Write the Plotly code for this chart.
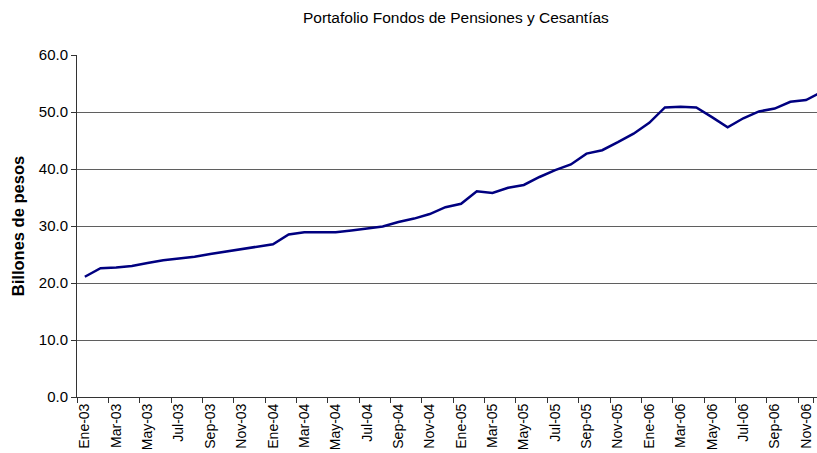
import plotly.graph_objects as go

# meses Ene-03 .. Dic-06
meses_es = ["Ene", "Feb", "Mar", "Abr", "May", "Jun",
            "Jul", "Ago", "Sep", "Oct", "Nov", "Dic"]
anios = ["03", "04", "05", "06"]
meses = [m + "-" + a for a in anios for m in meses_es]

# portafolio, billones de pesos
portafolio = [
    21.1, 22.6, 22.7, 23.0, 23.5, 24.0, 24.3, 24.6, 25.1, 25.5, 25.9, 26.3,
    26.8, 28.5, 28.9, 28.9, 28.9, 29.2, 29.5, 29.9, 30.7, 31.3, 32.1, 33.3,
    33.9, 36.1, 35.8, 36.7, 37.2, 38.6, 39.8, 40.8, 42.7, 43.3, 44.7, 46.2,
    48.1, 50.8, 50.9, 50.8, 49.1, 47.3, 48.9, 50.1, 50.6, 51.8, 52.1, 53.5,
]

etiquetas = meses[::2]

fig = go.Figure()
fig.add_trace(go.Scatter(x=meses, y=portafolio, mode="lines",
                         line=dict(color="#000080", width=2.5),
                         showlegend=False))

fig.update_layout(
    width=817, height=453,
    margin=dict(l=77, r=0, t=55, b=56, autoexpand=False),
    paper_bgcolor="white", plot_bgcolor="white",
    font=dict(family="Liberation Sans, Arial, sans-serif", color="black", size=14),
    title=dict(text="Portafolio Fondos de Pensiones y Cesantías",
               x=0.558, xanchor="center", y=0.962, yanchor="middle",
               font=dict(size=15.5)),
)
fig.update_xaxes(
    type="category", categoryorder="array", categoryarray=meses,
    range=[-0.5, 46.7], automargin=False,
    tickmode="array", tickvals=etiquetas, ticktext=etiquetas,
    tickson="boundaries", ticks="outside", ticklen=5, tickcolor="#333333",
    tickangle=-90, showgrid=False,
    showline=True, linecolor="#333333", linewidth=1,
    tickfont=dict(size=14),
)
fig.update_yaxes(
    range=[0, 60], dtick=10, tickformat=".1f", automargin=False,
    ticks="outside", ticklen=5, tickcolor="#333333",
    showgrid=True, gridcolor="#5f5f5f", gridwidth=1,
    showline=True, linecolor="#333333", linewidth=1,
    zeroline=False,
    title=dict(text="<b>Billones de pesos</b>", font=dict(size=16.5), standoff=10),
    tickfont=dict(size=15),
)

fig.write_html("out.html", config={"displayModeBar": False},
               post_script="document.body.style.margin='0px';")
